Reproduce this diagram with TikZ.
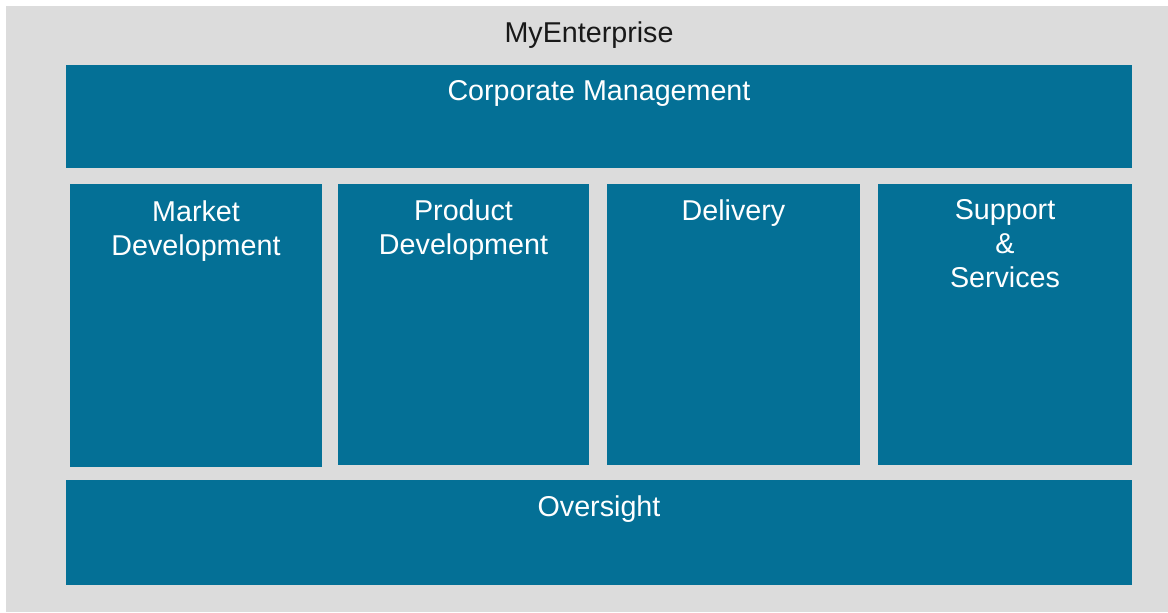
\documentclass[tikz,border=0pt]{standalone}
\usepackage{fontspec}
\setmainfont{Liberation Sans}
\usetikzlibrary{positioning}

\definecolor{unitblue}{RGB}{4,112,150}
\definecolor{backgray}{RGB}{220,220,220}
\newcommand{\px}{0.025cm}

\tikzset{
    unit/.style={fill=unitblue, draw=none, inner sep=0pt, outer sep=0pt},
    unitname/.style={text=white, align=center, inner sep=0pt, font=\fontsize{20.4}{24}\selectfont},
}

\begin{document}
\begin{tikzpicture}[x=0.025cm, y=-0.025cm]
    \useasboundingbox (0,0) rectangle (1168,612);
    % Enterprise frame
    \fill[backgray] (6,6) rectangle (1168,612);
    \node[inner sep=0pt, text=black!90, font=\fontsize{20.4}{24}\selectfont] (ent) at (589,35) {MyEnterprise};

    % Top and bottom layers
    \node[unit, minimum width=1066*\px, minimum height=103*\px] (corp) at (599,116.5) {};
    \node[unit, minimum width=1066*\px, minimum height=105*\px] (over) at (599,532.5) {};

    % Business units
    \node[unit, minimum width=252*\px, minimum height=283*\px] (market) at (196,325.5) {};
    \node[unit, minimum width=251*\px, minimum height=281*\px] (product) at (463.5,324.5) {};
    \node[unit, minimum width=253*\px, minimum height=281*\px] (delivery) at (733.5,324.5) {};
    \node[unit, minimum width=254*\px, minimum height=281*\px] (support) at (1005,324.5) {};

    % Labels
    \node[unitname, below=0.38cm of corp.north] (corplbl) {Corporate Management};
    \node[unitname, below=0.38cm of over.north] (overlbl) {Oversight};
    \node[unitname, below=0.42cm of market.north] (marketlbl) {Market\\Development};
    \node[unitname, below=0.38cm of product.north] (productlbl) {Product\\Development};
    \node[unitname, below=0.38cm of delivery.north] (deliverylbl) {Delivery};
    \node[unitname, below=0.38cm of support.north] (supportlbl) {Support\\\&\\Services};
\end{tikzpicture}
\end{document}
